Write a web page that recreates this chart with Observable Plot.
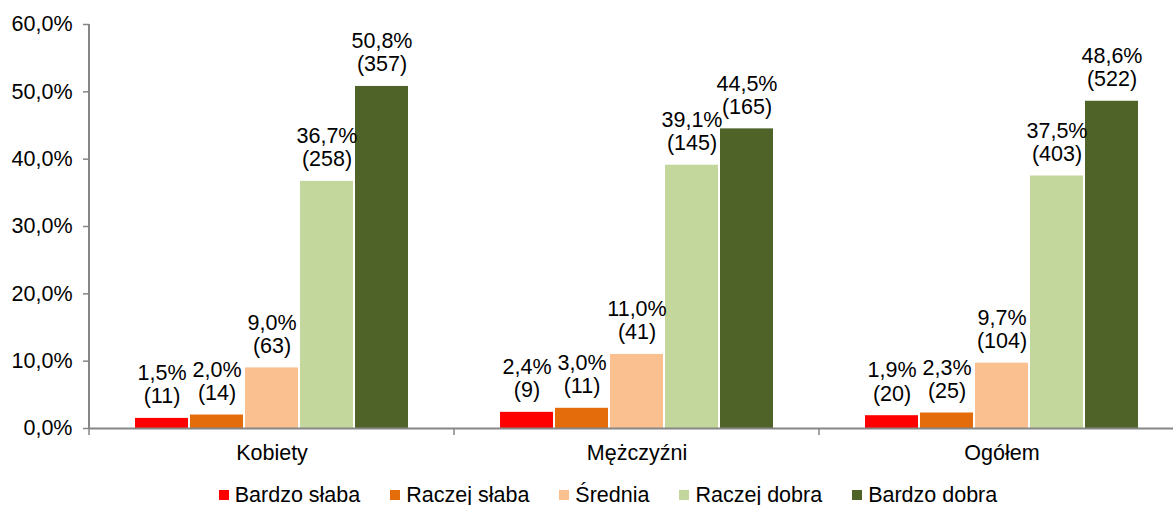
<!DOCTYPE html>
<html><head><meta charset="utf-8">
<script src="https://cdn.jsdelivr.net/npm/d3@7"></script>
<script src="https://cdn.jsdelivr.net/npm/@observablehq/plot@0.6"></script>
<style>
html,body{margin:0;padding:0;background:#fff;overflow:hidden;}
#chart svg{display:block;}
#legend{display:flex;justify-content:center;align-items:center;height:20px;margin-top:7px;padding-left:43px;
  font-family:'Liberation Sans',Arial,sans-serif;font-size:21.5px;color:#000;line-height:20px;white-space:nowrap;}
#legend .item{display:flex;align-items:center;margin:0 15px;}
#legend .sw{width:10px;height:10px;margin-right:6px;}
</style></head>
<body><div id="chart"></div><div id="legend"></div>
<script>
const groups = ["Kobiety", "Mężczyźni", "Ogółem"];
const series = ["Bardzo słaba", "Raczej słaba", "Średnia", "Raczej dobra", "Bardzo dobra"];
const colors = ["#FF0000", "#E46C0A", "#FAC090", "#C3D69B", "#4F6228"];
const pctKobiety = [1.5, 2.0, 9.0, 36.7, 50.8];
const nKobiety = [11, 14, 63, 258, 357];
const pctMezczyzni = [2.4, 3.0, 11.0, 39.1, 44.5];
const nMezczyzni = [9, 11, 41, 145, 165];
const pctOgolem = [1.9, 2.3, 9.7, 37.5, 48.6];
const nOgolem = [20, 25, 104, 403, 522];
const yTicks = [0, 10, 20, 30, 40, 50, 60];

const pcts = [pctKobiety, pctMezczyzni, pctOgolem];
const ns = [nKobiety, nMezczyzni, nOgolem];
const rows = [];
groups.forEach((g, gi) => series.forEach((s, si) => rows.push({group: g, series: s, value: pcts[gi][si], n: ns[gi][si]})));

const fmt = v => v.toFixed(1).replace(".", ",") + "%";
const grey = "#868686";

const chart = Plot.plot({
  width: 1173, height: 478,
  marginLeft: 89, marginRight: -11, marginTop: 24, marginBottom: 50,
  style: {fontFamily: "'Liberation Sans', Arial, sans-serif", fontSize: "21.5px", color: "#000", background: "#fff", overflow: "hidden"},
  fx: {domain: groups, padding: 0, label: null},
  x: {domain: series, axis: null, paddingInner: 0.04, paddingOuter: 0.78},
  y: {domain: [0, 60], label: null},
  color: {domain: series, range: colors},
  marks: [
    Plot.barY(rows, {fx: "group", x: "series", y: "value", fill: "series"}),
    Plot.ruleY([0], {stroke: grey, strokeWidth: 2}),
    Plot.text(rows, {fx: "group", x: "series", y: "value",
      text: d => fmt(d.value) + "\n(" + d.n + ")",
      lineAnchor: "bottom", lineHeight: 1.08, dy: -15, fontSize: 21.5, fill: "#000"}),
    Plot.axisY({ticks: yTicks, tickFormat: fmt, tickSize: 6, tickPadding: 11, stroke: grey, color: "#000", strokeWidth: 1.5, label: null}),
    Plot.axisFx({anchor: "bottom", tickSize: 0, tickPadding: 16, label: null, color: "#000"})
  ]
});
document.getElementById("chart").appendChild(chart);

// axis line and group boundary ticks, placed through Plot's own scales
try {
  const svg = d3.select(chart);
  const fxS = chart.scale("fx");
  const yS = chart.scale("y");
  const y0 = yS.apply(0), yTop = yS.apply(60);
  const left = fxS.apply(groups[0]);
  svg.append("line").attr("x1", left).attr("x2", left).attr("y1", yTop).attr("y2", y0)
    .attr("stroke", grey).attr("stroke-width", 2);
  const bounds = groups.map(g => fxS.apply(g)).concat([fxS.apply(groups[groups.length - 1]) + fxS.bandwidth]);
  bounds.forEach(bx => svg.append("line").attr("x1", bx).attr("x2", bx).attr("y1", y0).attr("y2", y0 + 7)
    .attr("stroke", grey).attr("stroke-width", 1.5));
} catch (e) { console.error(e); }

const legend = document.getElementById("legend");
series.forEach((s, i) => {
  const it = document.createElement("div"); it.className = "item";
  const sw = document.createElement("div"); sw.className = "sw"; sw.style.background = colors[i];
  const t = document.createElement("span"); t.textContent = s;
  it.appendChild(sw); it.appendChild(t); legend.appendChild(it);
});
</script></body></html>
